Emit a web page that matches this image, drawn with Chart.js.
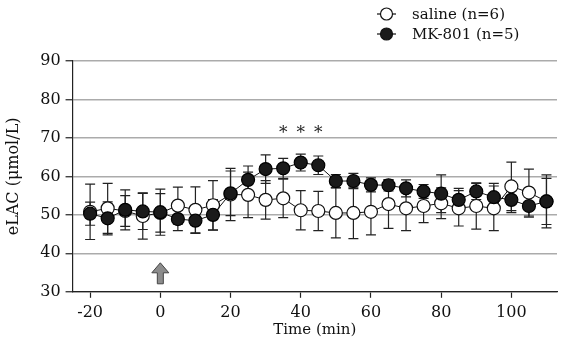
<!DOCTYPE html>
<html>
<head>
<meta charset="utf-8">
<script src="https://cdn.jsdelivr.net/npm/chart.js@4"></script>
<style>
  html, body { margin: 0; padding: 0; background: #fff; }
  #wrap { width: 567px; height: 341px; position: relative; }
</style>
</head>
<body>
<div id="wrap"><canvas id="chart_elac"></canvas></div>
<script>
// time points (min)
var times = [-20, -15, -10, -5, 0, 5, 10, 15, 20, 25, 30, 35, 40, 45, 50, 55, 60, 65, 70, 75, 80, 85, 90, 95, 100, 105, 110];

var salineMean = [50.8, 51.7, 51.0, 49.7, 50.5, 52.4, 51.3, 52.5, 55.3, 55.2, 53.9, 54.3, 51.2, 51.0, 50.5, 50.5, 50.8, 52.8, 51.7, 52.3, 53.0, 51.7, 52.3, 51.7, 57.4, 55.8, 53.5];
var salineErr  = [7.2, 6.5, 4.0, 6.0, 5.0, 4.8, 6.0, 6.4, 6.8, 5.9, 5.0, 5.0, 5.1, 5.1, 6.5, 6.7, 6.0, 6.3, 5.8, 4.3, 4.0, 4.6, 6.0, 5.8, 6.3, 6.1, 6.0];

var mkMean = [50.3, 49.1, 51.3, 50.9, 50.7, 48.9, 48.5, 50.0, 55.6, 59.1, 61.9, 62.1, 63.6, 62.9, 58.8, 58.8, 57.8, 57.7, 56.9, 56.1, 55.5, 53.9, 56.1, 54.6, 53.9, 52.3, 53.5];
var mkErr  = [3.0, 4.3, 5.2, 4.7, 6.0, 3.0, 3.3, 4.0, 5.8, 3.6, 3.7, 2.6, 2.2, 2.4, 1.7, 2.0, 1.8, 1.5, 2.2, 1.8, 4.9, 3.0, 2.1, 3.6, 3.3, 2.9, 6.9];

var xTicks = [-20, 0, 20, 40, 60, 80, 100];
var sigTimes = [35, 40, 45];   // asterisks
var sigLevel = 72;
var arrowTime = 0;             // drug injection

var serif = "'DejaVu Serif', serif";

function pts(means) {
  return times.map(function (t, i) { return { x: t, y: means[i] }; });
}

var errorBars = {
  id: 'errorBars',
  beforeDatasetsDraw: function (chart) {
    var ctx = chart.ctx, xs = chart.scales.x, ys = chart.scales.y;
    ctx.save();
    ctx.strokeStyle = '#222';
    ctx.lineWidth = 1.2;
    chart.data.datasets.forEach(function (ds) {
      ds.data.forEach(function (p, i) {
        var x = xs.getPixelForValue(p.x);
        var top = ys.getPixelForValue(p.y + ds.err[i]);
        var bot = ys.getPixelForValue(p.y - ds.err[i]);
        ctx.beginPath();
        ctx.moveTo(x, top); ctx.lineTo(x, bot);
        ctx.moveTo(x - 5, top); ctx.lineTo(x + 5, top);
        ctx.moveTo(x - 5, bot); ctx.lineTo(x + 5, bot);
        ctx.stroke();
      });
    });
    ctx.restore();
  }
};

var extras = {
  id: 'extras',
  afterDraw: function (chart) {
    var ctx = chart.ctx, xs = chart.scales.x, ys = chart.scales.y;
    ctx.save();
    // asterisks
    ctx.fillStyle = '#222';
    ctx.font = '17px ' + serif;
    ctx.textAlign = 'center';
    ctx.textBaseline = 'middle';
    sigTimes.forEach(function (t) {
      ctx.fillText('*', xs.getPixelForValue(t), ys.getPixelForValue(sigLevel) + 3);
    });
    // arrow
    var ax = xs.getPixelForValue(arrowTime);
    var ab = chart.chartArea.bottom - 8, at = chart.chartArea.bottom - 29;
    ctx.beginPath();
    ctx.moveTo(ax, at);
    ctx.lineTo(ax + 8.5, at + 10);
    ctx.lineTo(ax + 3, at + 10);
    ctx.lineTo(ax + 3, ab);
    ctx.lineTo(ax - 3, ab);
    ctx.lineTo(ax - 3, at + 10);
    ctx.lineTo(ax - 8.5, at + 10);
    ctx.closePath();
    ctx.fillStyle = '#8c8c8c';
    ctx.fill();
    ctx.strokeStyle = '#444';
    ctx.lineWidth = 1;
    ctx.stroke();
    // legend
    ctx.font = '15px ' + serif;
    ctx.textAlign = 'left';
    chart.data.datasets.forEach(function (ds, i) {
      var y = 14 + i * 20;
      ctx.strokeStyle = '#111';
      ctx.lineWidth = 1.2;
      ctx.beginPath();
      ctx.moveTo(377, y); ctx.lineTo(396, y);
      ctx.stroke();
      ctx.beginPath();
      ctx.arc(386.5, y, 6, 0, Math.PI * 2);
      ctx.fillStyle = ds.pointBackgroundColor;
      ctx.fill();
      ctx.stroke();
      ctx.fillStyle = '#111';
      ctx.fillText(ds.label, 412, y + 1);
    });
    ctx.restore();
  }
};

var chart_elac = new Chart(document.getElementById('chart_elac'), {
  type: 'line',
  data: {
    datasets: [
      {
        label: 'saline (n=6)',
        data: pts(salineMean),
        err: salineErr,
        order: 2,
        borderColor: '#111',
        borderWidth: 1,
        pointBackgroundColor: '#ffffff',
        pointBorderColor: '#111',
        pointBorderWidth: 1.2,
        pointRadius: 6.5,
        tension: 0
      },
      {
        label: 'MK-801 (n=5)',
        data: pts(mkMean),
        err: mkErr,
        order: 1,
        borderColor: '#111',
        borderWidth: 1,
        pointBackgroundColor: '#1a1a1a',
        pointBorderColor: '#000',
        pointBorderWidth: 1.2,
        pointRadius: 6.5,
        tension: 0
      }
    ]
  },
  options: {
    animation: false,
    responsive: true,
    maintainAspectRatio: false,
    layout: { padding: { top: 61, right: 10, left: 4, bottom: 2 } },
    plugins: {
      legend: { display: false },
      tooltip: { enabled: false }
    },
    scales: {
      x: {
        type: 'linear',
        min: -25,
        max: 113,
        afterBuildTicks: function (axis) {
          axis.ticks = xTicks.map(function (v) { return { value: v }; });
        },
        grid: { drawOnChartArea: false, tickLength: 6, tickColor: '#222', tickWidth: 1.2 },
        border: { color: '#222', width: 1.2 },
        ticks: { color: '#111', font: { family: serif, size: 16 }, padding: 5, maxRotation: 0 },
        title: { display: true, text: 'Time (min)', color: '#111', font: { family: serif, size: 15 }, padding: { top: -6, bottom: 0 } }
      },
      y: {
        min: 30,
        max: 90,
        ticks: { stepSize: 10, color: '#111', font: { family: serif, size: 16 }, padding: 5 },
        grid: { color: '#ababab', lineWidth: 1.5, tickColor: '#222', tickLength: 7, tickWidth: 1.2 },
        border: { color: '#222', width: 1.2 },
        title: { display: true, text: 'eLAC (μmol/L)', color: '#111', font: { family: serif, size: 16 }, padding: { top: 0, bottom: 12 } }
      }
    }
  },
  plugins: [errorBars, extras]
});
</script>
</body>
</html>
